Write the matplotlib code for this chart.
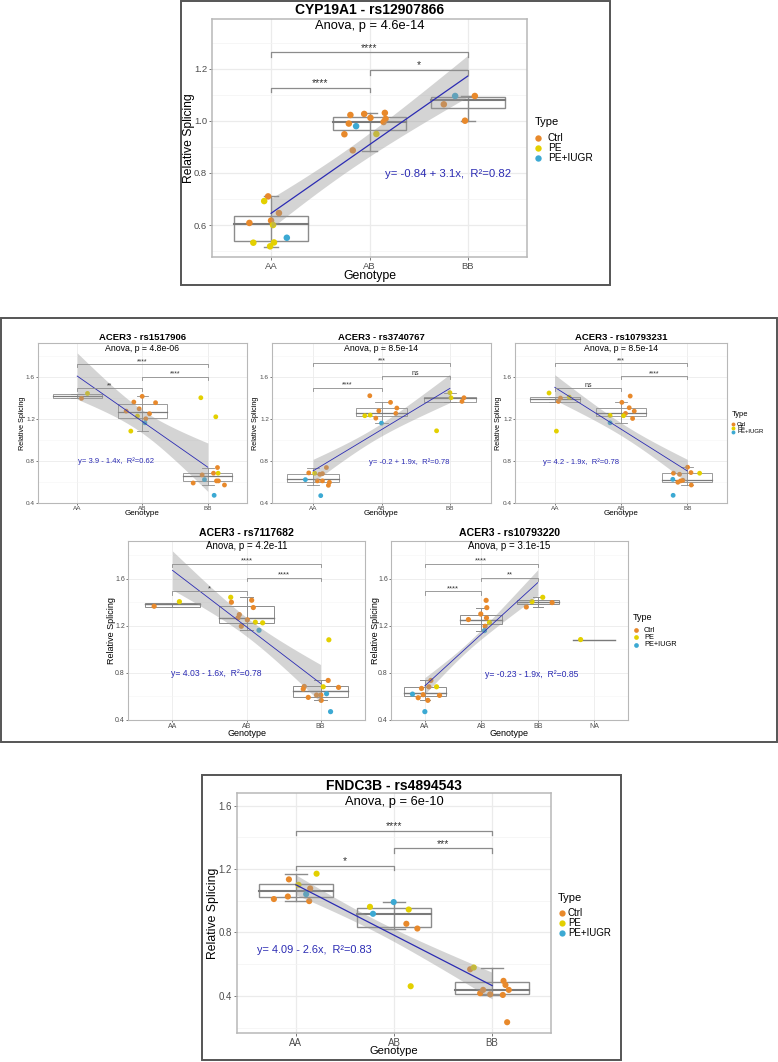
import numpy as np
import matplotlib
matplotlib.use('Agg')
import matplotlib.pyplot as plt
from matplotlib.lines import Line2D
from matplotlib.patches import Rectangle

W, H, DPI = 778, 1062, 100
plt.rcParams['font.family'] = ['Liberation Sans', 'DejaVu Sans']

TYPE_NAMES = {'C': 'Ctrl', 'P': 'PE', 'I': 'PE+IUGR'}
TYPE_COLORS = {'C': '#E8892B', 'P': '#E3D000', 'I': '#3CA9D3'}
BLUE = '#2B2BB3'

# ------------------------------------------------------------------ data
# CYP19A1 - rs12907866
cyp_cats = ['AA', 'AB', 'BB']
cyp_geno = ['AA'] * 10 + ['AB'] * 11 + ['BB'] * 4
cyp_jit = [-0.22, -0.03, -0.07, 0.08, 0.00, 0.02, -0.18, 0.03, -0.01, 0.16,
           -0.255, -0.194, -0.21, -0.136, -0.054, 0.01, 0.156, 0.163, 0.143, 0.07, -0.17,
           -0.245, -0.13, 0.07, -0.03]
cyp_val = [0.608, 0.710, 0.692, 0.646, 0.617, 0.600, 0.532, 0.533, 0.518, 0.551,
           0.949, 1.023, 0.990, 0.980, 1.027, 1.012, 1.031, 1.008, 0.996, 0.950, 0.887,
           1.064, 1.096, 1.096, 1.001]
cyp_type = list("CCPCCPPPPI" "CCCICCCCCPC" "CICC")
cyp_box = [(0.517, 0.539, 0.605, 0.636, 0.710),
           (0.886, 0.964, 0.995, 1.016, 1.030),
           (1.000, 1.049, 1.081, 1.093, 1.096)]
cyp_fit = (0.645, 1.173)
cyp_hw = (0.058, 0.045, 0.080)
cyp_brackets = [(1, 2, 1.126, '****'), (2, 3, 1.195, '*'), (1, 3, 1.264, '****')]
cyp_eq = 'y= -0.84 + 3.1x,  R²=0.82'
cyp_title = 'CYP19A1 - rs12907866'
cyp_anova = 'Anova, p = 4.6e-14'

# ACER3 - rs1517906
a1_cats = ['AA', 'AB', 'BB']
a1_geno = ['AA'] * 2 + ['AB'] * 10 + ['BB'] * 12
a1_jit = [0.066, 0.158,
          -0.133, -0.25, -0.051, -0.005, 0.2, -0.077, 0.107, 0.05, 0.036, -0.179,
          -0.107, 0.122, -0.087, 0.148, 0.087, 0.158, -0.051, 0.133, 0.163, -0.224, 0.255, 0.097]
a1_val = [1.394, 1.441,
          1.359, 1.273, 1.295, 1.413, 1.353, 1.226, 1.248, 1.200, 1.162, 1.083,
          1.400, 1.219, 0.667, 0.737, 0.683, 0.683, 0.622, 0.610, 0.610, 0.590, 0.571, 0.473]
a1_type = list("CP" "CCCCCPCCIP" "PPCCCPICCCCI")
a1_box = [(1.400, 1.400, 1.416, 1.435, 1.440),
          (1.083, 1.203, 1.260, 1.337, 1.416),
          (0.568, 0.606, 0.660, 0.683, 0.737)]
a1_fit = (1.606, 0.740)
a1_hw = (0.22, 0.11, 0.23)
a1_brackets = [(1, 2, 1.489, '**'), (2, 3, 1.600, '****'), (1, 3, 1.718, '****')]
a1_eq = 'y= 3.9 - 1.4x,  R²=0.62'
a1_title = 'ACER3 - rs1517906'
a1_anova = 'Anova, p = 4.8e-06'

# ACER3 - rs3740767
a2_cats = ['AA', 'AB', 'BB']
a2_geno = ['AA'] * 11 + ['AB'] * 9 + ['BB'] * 5
a2_jit = [-0.063, 0.024, 0.098, 0.137, 0.195, -0.112, 0.063, 0.137, 0.239, 0.224, 0.112,
          -0.171, 0.132, 0.224, -0.039, 0.21, -0.244, -0.166, -0.083, 0.0,
          0.0, 0.015, 0.205, 0.176, -0.195]
a2_val = [0.686, 0.683, 0.673, 0.679, 0.737, 0.622, 0.610, 0.610, 0.597, 0.568, 0.470,
          1.419, 1.356, 1.302, 1.276, 1.251, 1.229, 1.235, 1.206, 1.159,
          1.448, 1.400, 1.400, 1.365, 1.086]
a2_type = list("CPCCCICCCCI" "CCCCCPPCI" "PPCCP")
a2_box = [(0.568, 0.603, 0.625, 0.676, 0.737),
          (1.159, 1.226, 1.257, 1.298, 1.356),
          (1.362, 1.362, 1.394, 1.406, 1.448)]
a2_fit = (0.705, 1.489)
a2_hw = (0.11, 0.06, 0.135)
a2_brackets = [(1, 2, 1.495, '****'), (2, 3, 1.606, 'ns'), (1, 3, 1.727, '***')]
a2_eq = 'y= -0.2 + 1.9x,  R²=0.78'
a2_title = 'ACER3 - rs3740767'
a2_anova = 'Anova, p = 8.5e-14'

# ACER3 - rs10793231
a3_cats = ['AA', 'AB', 'BB']
a3_geno = ['AA'] * 5 + ['AB'] * 9 + ['BB'] * 11
a3_jit = [-0.086, 0.086, 0.218, 0.056, 0.025,
          0.139, 0.013, 0.124, 0.2, 0.068, -0.165, 0.038, 0.175, -0.165,
          0.005, -0.208, -0.116, 0.056, 0.187, -0.218, -0.142, -0.101, -0.066, 0.061, -0.213]
a3_val = [1.445, 1.397, 1.406, 1.365, 1.083,
          1.416, 1.356, 1.305, 1.273, 1.251, 1.232, 1.229, 1.203, 1.162,
          0.740, 0.683, 0.673, 0.689, 0.683, 0.625, 0.597, 0.610, 0.616, 0.571, 0.473]
a3_type = list("PCPCP" "CCCCCPPCI" "CCCCPICCCCI")
a3_box = [(1.362, 1.362, 1.387, 1.406, 1.406),
          (1.162, 1.226, 1.251, 1.305, 1.362),
          (0.571, 0.603, 0.619, 0.683, 0.740)]
a3_fit = (1.499, 0.705)
a3_hw = (0.12, 0.06, 0.11)
a3_brackets = [(1, 2, 1.495, 'ns'), (2, 3, 1.606, '****'), (1, 3, 1.727, '***')]
a3_eq = 'y= 4.2 - 1.9x,  R²=0.78'
a3_title = 'ACER3 - rs10793231'
a3_anova = 'Anova, p = 8.5e-14'

# ACER3 - rs7117682
a4_cats = ['AA', 'AB', 'BB']
a4_geno = ['AA'] * 2 + ['AB'] * 11 + ['BB'] * 12
a4_jit = [-0.247, 0.094,
          -0.213, -0.204, 0.07, 0.092, -0.097, -0.115, 0.011, 0.119, 0.218, -0.07, 0.169,
          0.112, 0.103, -0.22, -0.234, 0.036, 0.243, -0.166, -0.054, 0.004, 0.009, 0.081, 0.135]
a4_val = [1.366, 1.405,
          1.442, 1.400, 1.417, 1.355, 1.295, 1.267, 1.250, 1.230, 1.225, 1.196, 1.162,
          1.081, 0.736, 0.685, 0.663, 0.682, 0.677, 0.592, 0.612, 0.612, 0.567, 0.623, 0.471]
a4_type = list("CP" "PCCCCCCPPCI" "PCCCPCCCCCII")
a4_box = [(1.360, 1.360, 1.383, 1.394, 1.394),
          (1.162, 1.225, 1.270, 1.371, 1.442),
          (0.567, 0.598, 0.643, 0.688, 0.736)]
a4_fit = (1.671, 0.711)
a4_hw = (0.165, 0.08, 0.16)
a4_brackets = [(1, 2, 1.493, '*'), (2, 3, 1.609, '****'), (1, 3, 1.727, '****')]
a4_eq = 'y= 4.03 - 1.6x,  R²=0.78'
a4_title = 'ACER3 - rs7117682'
a4_anova = 'Anova, p = 4.2e-11'

# ACER3 - rs10793220
a5_cats = ['AA', 'AB', 'BB', 'NA']
a5_geno = ['AA'] * 10 + ['AB'] * 8 + ['BB'] * 4 + ['NA']
a5_jit = [-0.219, -0.059, 0.107, 0.071, 0.207, -0.03, -0.118, 0.26, 0.053, 0.0,
          0.086, 0.098, -0.009, -0.228, 0.092, 0.145, 0.068, 0.056,
          0.089, -0.101, 0.255, -0.202,
          -0.24]
a5_val = [0.620, 0.668, 0.736, 0.682, 0.682, 0.615, 0.589, 0.609, 0.567, 0.471,
          1.416, 1.354, 1.300, 1.253, 1.267, 1.227, 1.196, 1.159,
          1.442, 1.405, 1.397, 1.360,
          1.083]
a5_type = list("ICCCPCCCCI" "CCCCCPCI" "PPCC" "P")
a5_box = [(0.567, 0.603, 0.629, 0.682, 0.736),
          (1.159, 1.219, 1.247, 1.295, 1.354),
          (1.360, 1.388, 1.402, 1.416, 1.442),
          (1.083, 1.083, 1.083, 1.083, 1.083)]
a5_fit = (0.690, 1.566)
a5_hw = (0.07, 0.04, 0.11)
a5_brackets = [(1, 2, 1.493, '****'), (2, 3, 1.609, '**'), (1, 3, 1.727, '****')]
a5_eq = 'y= -0.23 - 1.9x,  R²=0.85'
a5_title = 'ACER3 - rs10793220'
a5_anova = 'Anova, p = 3.1e-15'

# FNDC3B - rs4894543
fn_cats = ['AA', 'AB', 'BB']
fn_geno = ['AA'] * 8 + ['AB'] * 7 + ['BB'] * 10
fn_jit = [-0.224, -0.082, -0.071, 0.027, 0.105, 0.146, 0.136, 0.211,
          -0.245, -0.214, -0.003, 0.15, 0.126, 0.238, 0.17,
          -0.224, -0.187, 0.116, 0.136, 0.17, -0.092, -0.122, -0.02, 0.109, 0.153]
fn_val = [1.011, 1.027, 1.135, 1.101, 1.042, 1.078, 0.998, 1.171,
          0.962, 0.918, 0.992, 0.945, 0.855, 0.825, 0.461,
          0.568, 0.579, 0.495, 0.469, 0.438, 0.438, 0.417, 0.410, 0.406, 0.234]
fn_type = list("CCCPICCP" "PIIPCCP" "CPCCCCCCCC")
fn_box = [(0.998, 1.021, 1.063, 1.105, 1.171),
          (0.821, 0.836, 0.914, 0.954, 0.992),
          (0.406, 0.410, 0.438, 0.486, 0.579)]
fn_fit = (1.101, 0.465)
fn_hw = (0.063, 0.04, 0.084)
fn_brackets = [(1, 2, 1.219, '*'), (2, 3, 1.331, '***'), (1, 3, 1.442, '****')]
fn_eq = 'y= 4.09 - 2.6x,  R²=0.83'
fn_title = 'FNDC3B - rs4894543'
fn_anova = 'Anova, p = 6e-10'

# ------------------------------------------------------------------ layout / style
fig = plt.figure(figsize=(W / DPI, H / DPI), dpi=DPI)
fig.patch.set_facecolor('white')


def fx(x):
    return x / W


def fy(y):
    return 1 - y / H


def px_axes(l, t, r, b):
    return fig.add_axes([l / W, 1 - b / H, (r - l) / W, (b - t) / H])


def outer_box(l, t, r, b):
    fig.add_artist(Rectangle((fx(l), fy(b)), (r - l) / W, (b - t) / H, transform=fig.transFigure,
                             fill=False, ec='#555555', lw=1.4))


BIG = dict(tick=6.8, ticklen=2.0, pad=1.5, grid=0.9, spine=1.1, ms=22, box_lw=1.0, med_lw=1.5,
           cap=0.15, line_lw=0.9, br_lw=0.9, br_fs=7.5, br_off=1.2, eq_fs=8.2)
MID = dict(tick=4.6, ticklen=1.2, pad=1.0, grid=0.6, spine=0.8, ms=12, box_lw=0.6, med_lw=0.9,
           cap=0.18, line_lw=0.6, br_lw=0.6, br_fs=5.0, br_off=0.8, eq_fs=5.5,
           ylim=(0.4, 1.92), yticks=[0.4, 0.8, 1.2, 1.6], yminor=[0.6, 1.0, 1.4, 1.8])
ROW3 = dict(MID, tick=5.0, ms=14, br_fs=5.5, eq_fs=6.2, box_lw=0.7, med_lw=1.0)
TOP = dict(BIG, ylim=(0.477, 1.392), yticks=[0.6, 0.8, 1.0, 1.2], yminor=[0.5, 0.7, 0.9, 1.1, 1.3])
BOT = dict(BIG, tick=7.0, ms=19.5, cap=0.22, eq_fs=7.9,
           ylim=(0.166, 1.68), yticks=[0.4, 0.8, 1.2, 1.6], yminor=[0.2, 0.6, 1.0, 1.4])


def draw_panel(box_px, cats, geno, jit, val, typ, box, fit, hw, brackets, eq, eq_pos, st):
    ax = px_axes(*box_px)
    n = len(cats)
    ax.set_xlim(0.4, n + 0.6)
    y0, y1 = st['ylim']
    ax.set_ylim(y0, y1)
    ax.set_facecolor('white')
    ax.set_xticks(np.arange(1, n + 1))
    ax.set_xticklabels(cats)
    ax.set_yticks(st['yticks'])
    ax.set_yticklabels(['%.1f' % v for v in st['yticks']])
    ax.set_yticks(st['yminor'], minor=True)
    ax.tick_params(which='major', labelsize=st['tick'], labelcolor='#4D4D4D', color='#444444',
                   length=st['ticklen'], width=0.5, pad=st['pad'])
    ax.tick_params(which='minor', length=0)
    ax.grid(True, which='major', color='#EBEBEB', lw=st['grid'])
    ax.grid(True, which='minor', axis='y', color='#F4F4F4', lw=st['grid'] * 0.6)
    ax.set_axisbelow(True)
    for s in ax.spines.values():
        s.set_color('#B8B8B8')
        s.set_linewidth(st['spine'])
    gray = '#8C8C8C'
    cw = st['cap'] / 2
    for i, (lo, q1, md, q3, hi) in enumerate(box):
        x = i + 1
        ax.plot([x, x], [lo, hi], color=gray, lw=st['box_lw'], zorder=2)
        ax.plot([x - cw, x + cw], [lo, lo], color=gray, lw=st['box_lw'], zorder=2)
        ax.plot([x - cw, x + cw], [hi, hi], color=gray, lw=st['box_lw'], zorder=2)
        ax.add_patch(Rectangle((x - 0.375, q1), 0.75, q3 - q1, fill=False, ec=gray,
                               lw=st['box_lw'], zorder=2))
        ax.plot([x - 0.375, x + 0.375], [md, md], color='#7A7A7A', lw=st['med_lw'], zorder=2)
    xs = [cats.index(g) + 1 + j for g, j in zip(geno, jit)]
    ax.scatter(xs, val, s=st['ms'], c=[TYPE_COLORS[t] for t in typ], edgecolors='none',
               zorder=3, clip_on=False)
    gx = np.linspace(1, 3, 80)
    gy = fit[0] + (fit[1] - fit[0]) * (gx - 1) / 2
    coef = np.polyfit([1, 2, 3], np.square(hw), 2)
    w = np.sqrt(np.clip(np.polyval(coef, gx), 0, None))
    ax.fill_between(gx, gy - w, gy + w, color='#999999', alpha=0.42, lw=0, zorder=4)
    ax.plot([1, 3], fit, color=BLUE, lw=st['line_lw'], zorder=5)
    tip = 0.018 * (y1 - y0)
    for a, b, yb, lab in brackets:
        ax.plot([a, a, b, b], [yb - tip, yb, yb, yb - tip], color='#8C8C8C', lw=st['br_lw'], zorder=5)
        ax.annotate(lab, xy=((a + b) / 2, yb), xytext=(0, st['br_off']), textcoords='offset points',
                    ha='center', va='baseline', fontsize=st['br_fs'], color='#333333', zorder=6)
    ax.text(eq_pos[0], eq_pos[1], eq, color=BLUE, fontsize=st['eq_fs'], ha='center', va='center',
            zorder=6)
    return ax


def labels(box_px, title, anova, title_y, anova_y, ylab_x, xlab_y, fs_title, fs_anova, fs_ylab, fs_xlab):
    l, t, r, b = box_px
    cx = (l + r) / 2
    fig.text(fx(cx), fy(title_y), title, ha='center', va='center', fontsize=fs_title, fontweight='bold')
    fig.text(fx(cx), fy(anova_y), anova, ha='center', va='center', fontsize=fs_anova)
    fig.text(fx(ylab_x), fy((t + b) / 2), 'Relative Splicing', rotation=90, ha='center', va='center',
             fontsize=fs_ylab)
    fig.text(fx(cx), fy(xlab_y), 'Genotype', ha='center', va='center', fontsize=fs_xlab)


def legend(title_x, title_y, dot_x, text_x, ys, fs_title, fs_lab, dot_ms):
    fig.text(fx(title_x), fy(title_y), 'Type', ha='left', va='center', fontsize=fs_title)
    for code, y in zip(['C', 'P', 'I'], ys):
        fig.add_artist(Line2D([fx(dot_x)], [fy(y)], marker='o', ms=dot_ms, ls='none',
                              color=TYPE_COLORS[code], mec='none', transform=fig.transFigure))
        fig.text(fx(text_x), fy(y), TYPE_NAMES[code], ha='left', va='center', fontsize=fs_lab)


# ---- outer frames
outer_box(181, 1, 610, 285)
outer_box(1, 318, 777, 742)
outer_box(202, 775, 621, 1060)

# ---- top panel
TOP_BOX = (212, 19, 527, 257)
draw_panel(TOP_BOX, cyp_cats, cyp_geno, cyp_jit, cyp_val, cyp_type, cyp_box, cyp_fit, cyp_hw,
           cyp_brackets, cyp_eq, (2.80, 0.797), TOP)
labels(TOP_BOX, cyp_title, cyp_anova, 9.5, 26, 189, 276, 10, 9.3, 8.7, 8.8)
legend(535, 121.7, 537.5, 548, [137.7, 148.3, 158], 8.0, 7.3, 4.6)

# ---- middle row 1
A1_BOX = (38, 343, 247, 503)
A2_BOX = (272, 343, 491, 503)
A3_BOX = (515, 343, 727, 503)
draw_panel(A1_BOX, a1_cats, a1_geno, a1_jit, a1_val, a1_type, a1_box, a1_fit, a1_hw,
           a1_brackets, a1_eq, (1.6, 0.797), MID)
draw_panel(A2_BOX, a2_cats, a2_geno, a2_jit, a2_val, a2_type, a2_box, a2_fit, a2_hw,
           a2_brackets, a2_eq, (2.4, 0.79), MID)
draw_panel(A3_BOX, a3_cats, a3_geno, a3_jit, a3_val, a3_type, a3_box, a3_fit, a3_hw,
           a3_brackets, a3_eq, (1.39, 0.79), MID)
for bx, tt, an in [(A1_BOX, a1_title, a1_anova), (A2_BOX, a2_title, a2_anova), (A3_BOX, a3_title, a3_anova)]:
    labels(bx, tt, an, 337, 348.3, bx[0] - 16, 514, 6.8, 6.3, 5.2, 5.8)
legend(731.5, 414, 733, 737, [424, 427.8, 431.5], 5.4, 4.3, 2.8)

# ---- middle row 2
A4_BOX = (128, 541, 365, 720)
A5_BOX = (391, 541, 628, 720)
draw_panel(A4_BOX, a4_cats, a4_geno, a4_jit, a4_val, a4_type, a4_box, a4_fit, a4_hw,
           a4_brackets, a4_eq, (1.59, 0.793), ROW3)
draw_panel(A5_BOX, a5_cats, a5_geno, a5_jit, a5_val, a5_type, a5_box, a5_fit, a5_hw,
           a5_brackets, a5_eq, (2.9, 0.79), ROW3)
for bx, tt, an in [(A4_BOX, a4_title, a4_anova), (A5_BOX, a5_title, a5_anova)]:
    labels(bx, tt, an, 533, 545.7, bx[0] - 16, 734, 7.6, 7.0, 6.5, 6.5)
legend(633, 617.7, 636.3, 644, [630, 637.3, 644.7], 6.5, 5.3, 3.4)

# ---- bottom panel
FN_BOX = (237, 793, 551, 1033)
draw_panel(FN_BOX, fn_cats, fn_geno, fn_jit, fn_val, fn_type, fn_box, fn_fit, fn_hw,
           fn_brackets, fn_eq, (1.19, 0.69), BOT)
labels(FN_BOX, fn_title, fn_anova, 785.7, 801.7, 213, 1051, 10, 9.3, 8.8, 8.0)
legend(558, 898, 561.7, 568, [913.3, 923.3, 933.3], 8.0, 7.0, 4.5)

fig.savefig('out.png', dpi=DPI, facecolor='white')
